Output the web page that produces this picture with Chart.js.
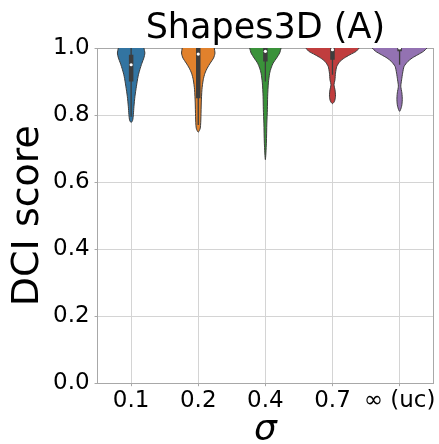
<!DOCTYPE html>
<html><head><meta charset="utf-8">
<script src="https://cdn.jsdelivr.net/npm/chart.js@4/dist/chart.umd.min.js"></script>
<style>html,body{margin:0;padding:0;background:#fff;} #wrap{width:439px;height:444px;}</style>
</head><body><div id="wrap"><canvas id="c" width="439" height="444"></canvas></div>
<script>
// ---- data ----
const categories = ['0.1', '0.2', '0.4', '0.7', '∞ (uc)'];
const fillColors = ['#3274a1', '#e1812c', '#3a923a', '#c03d3e', '#9372b2'];

// violin density profiles: score value and half-width (in category units)
const blueValues   = [1.0, 0.985, 0.970, 0.955, 0.935, 0.916, 0.886, 0.856, 0.826, 0.801, 0.784, 0.778];
const blueWidths   = [0.190, 0.205, 0.189, 0.161, 0.129, 0.104, 0.079, 0.057, 0.042, 0.033, 0.022, 0];
const orangeValues = [1.0, 0.985, 0.970, 0.955, 0.940, 0.925, 0.905, 0.876, 0.836, 0.796, 0.761, 0.749];
const orangeWidths = [0.238, 0.249, 0.228, 0.179, 0.134, 0.100, 0.074, 0.055, 0.045, 0.040, 0.030, 0];
const greenValues  = [1.0, 0.985, 0.970, 0.955, 0.940, 0.925, 0.896, 0.856, 0.816, 0.776, 0.716, 0.667];
const greenWidths  = [0.234, 0.213, 0.167, 0.116, 0.085, 0.064, 0.045, 0.034, 0.030, 0.022, 0.015, 0];
const redValues    = [1.0, 0.990, 0.980, 0.970, 0.960, 0.945, 0.925, 0.905, 0.890, 0.876, 0.856, 0.841, 0.834];
const redWidths    = [0.397, 0.353, 0.260, 0.176, 0.112, 0.064, 0.045, 0.037, 0.022, 0.037, 0.045, 0.030, 0];
const purpleValues = [1.0, 0.990, 0.980, 0.970, 0.960, 0.945, 0.925, 0.905, 0.886, 0.866, 0.846, 0.826, 0.811];
const purpleWidths = [0.409, 0.357, 0.272, 0.186, 0.124, 0.067, 0.045, 0.030, 0.018, 0.034, 0.040, 0.030, 0];

// inner box plots
const q1Values     = [0.900, 0.850, 0.960, 0.965, 0.990];
const q3Values     = [0.980, 1.000, 1.000, 1.000, 1.000];
const medianValues = [0.950, 0.982, 0.990, 0.995, 1.000];
const whiskerLow   = [0.795, 0.770, 0.900, 0.920, 0.950];
const whiskerHigh  = [1.000, 1.000, 1.000, 1.000, 1.000];

const yTicks = [0, 0.2, 0.4, 0.6, 0.8, 1.0];

// ---- build datasets ----
const FONT = 'DejaVu Sans';
const LINE = '#3d3d3d';
const profiles = [
  [blueValues, blueWidths], [orangeValues, orangeWidths], [greenValues, greenWidths],
  [redValues, redWidths], [purpleValues, purpleWidths]
];
const datasets = [];
profiles.forEach(([vals, widths], i) => {
  const pts = [];
  for (let k = 0; k < vals.length; k++) pts.push({x: i + widths[k], y: vals[k]});
  for (let k = vals.length - 2; k >= 0; k--) pts.push({x: i - widths[k], y: vals[k]});
  datasets.push({
    data: pts, showLine: true, pointRadius: 0, borderColor: LINE, borderWidth: 1,
    tension: 0.25, violinFill: fillColors[i], order: 3
  });
  datasets.push({
    data: [{x: i, y: whiskerLow[i]}, {x: i, y: whiskerHigh[i]}],
    showLine: true, pointRadius: 0, borderColor: LINE, borderWidth: 1.3,
    borderCapStyle: 'butt', order: 2
  });
  datasets.push({
    data: [{x: i, y: q1Values[i]}, {x: i, y: q3Values[i]}],
    showLine: true, pointRadius: 0, borderColor: LINE, borderWidth: 4.5,
    borderCapStyle: 'butt', order: 1
  });
});
datasets.push({
  data: medianValues.map((v, i) => ({x: i, y: v})),
  showLine: false, pointRadius: 1.6, pointBorderWidth: 0,
  pointBackgroundColor: '#ffffff', order: 0
});

const violinFill = {
  id: 'violinFill',
  beforeDatasetDraw(chart, args) {
    const ds = chart.data.datasets[args.index];
    if (!ds.violinFill) return;
    const ctx = chart.ctx, a = chart.chartArea, meta = args.meta;
    ctx.save();
    ctx.beginPath();
    ctx.rect(a.left, a.top, a.right - a.left, a.bottom - a.top);
    ctx.clip();
    ctx.beginPath();
    if (meta.dataset && typeof meta.dataset.path === 'function') {
      meta.dataset.path(ctx);
    } else {
      meta.data.forEach((p, k) => k ? ctx.lineTo(p.x, p.y) : ctx.moveTo(p.x, p.y));
    }
    ctx.closePath();
    ctx.fillStyle = ds.violinFill;
    ctx.fill();
    ctx.restore();
  }
};

const GRID = '#d4d4d4';
const AXIS = '#a8a8a8';
new Chart(document.getElementById('c'), {
  type: 'scatter',
  data: {datasets},
  plugins: [violinFill],
  options: {
    responsive: false, animation: false,
    layout: {padding: {left: 1, right: 5, top: 0, bottom: -3}},
    plugins: {
      legend: {display: false}, tooltip: {enabled: false}, title: {display: false}
    },
    scales: {
      x: {
        type: 'linear', min: -0.5, max: 4.5,
        afterBuildTicks: s => { s.ticks = categories.map((_, i) => ({value: i})); },
        ticks: {callback: v => categories[v], color: '#000', padding: 3,
          font: {family: FONT, size: 23, lineHeight: 1}, maxRotation: 0, autoSkip: false},
        grid: {color: GRID, lineWidth: 1, tickLength: 3, tickColor: AXIS},
        border: {color: AXIS, width: 1},
        title: {display: true, text: 'σ', color: '#000', padding: 0,
          font: {family: FONT, size: 36, style: 'italic', lineHeight: 0.883}}
      },
      y: {
        min: 0, max: 1,
        afterBuildTicks: s => { s.ticks = yTicks.map(v => ({value: v})); },
        ticks: {callback: v => v.toFixed(1), color: '#000', padding: 5,
          font: {family: FONT, size: 23, lineHeight: 1}},
        grid: {color: GRID, lineWidth: 1, tickLength: 3, tickColor: AXIS},
        border: {color: AXIS, width: 1},
        title: {display: true, text: 'DCI score', color: '#000',
          padding: {top: 8, bottom: 1},
          font: {family: FONT, size: 38, lineHeight: 1}}
      },
      x2: {
        type: 'linear', position: 'top', min: -0.5, max: 4.5,
        ticks: {display: false}, grid: {drawOnChartArea: false, drawTicks: false},
        border: {color: AXIS, width: 1},
        title: {display: true, text: 'Shapes3D (A)', color: '#000',
          padding: {top: 11.5, bottom: 1.5},
          font: {family: FONT, size: 35, weight: 'normal', lineHeight: 1}}
      },
      y2: {
        type: 'linear', position: 'right', min: 0, max: 1,
        ticks: {display: false}, grid: {drawOnChartArea: false, drawTicks: false},
        border: {color: AXIS, width: 1}
      }
    }
  }
});
</script>
</body></html>
